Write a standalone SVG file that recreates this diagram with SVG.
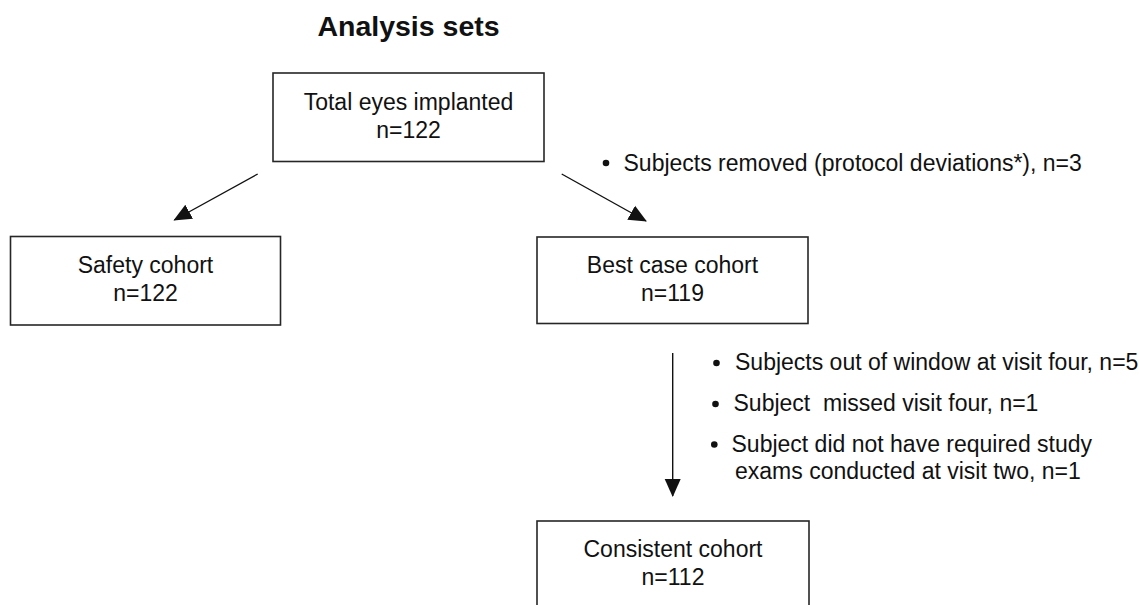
<svg xmlns="http://www.w3.org/2000/svg" width="1139" height="605" viewBox="0 0 1139 605">
<defs>
<style>
.box{fill:#fff;stroke:#262626;stroke-width:1.6}
.t{font-family:"Liberation Sans",Arial,sans-serif;font-size:23px;fill:#111}
.c{text-anchor:middle}
.title{font-family:"Liberation Sans",Arial,sans-serif;font-size:28.5px;font-weight:bold;fill:#111;text-anchor:middle}
.edge{stroke:#111;stroke-width:1.4;fill:none;marker-end:url(#ah)}
.dot{fill:#111}
</style>
<marker id="ah" markerUnits="userSpaceOnUse" markerWidth="18" markerHeight="18" viewBox="0 0 18 16" refX="17" refY="8" orient="auto">
<path d="M0,0 L18,8 L0,16 Z" fill="#111"/>
</marker>
</defs>
<rect width="1139" height="605" fill="#fff"/>
<text class="title" x="408.5" y="36">Analysis sets</text>
<g id="connectors">
<line class="edge" x1="257.7" y1="174" x2="174.3" y2="220"/>
<line class="edge" x1="561.7" y1="174" x2="646" y2="221"/>
<line class="edge" x1="672.7" y1="353" x2="672.7" y2="496"/>
</g>
<g id="total">
<rect class="box" x="273" y="73" width="271" height="88.5"/>
<text class="t c" x="408.5" y="110">Total eyes implanted</text>
<text class="t c" x="408.5" y="137.5">n=122</text>
</g>
<g id="safety">
<rect class="box" x="10.5" y="236.5" width="270" height="88.5"/>
<text class="t c" x="145.5" y="273">Safety cohort</text>
<text class="t c" x="145.5" y="301">n=122</text>
</g>
<g id="bestcase">
<rect class="box" x="537" y="237" width="271" height="86.5"/>
<text class="t c" x="672.5" y="273">Best case cohort</text>
<text class="t c" x="672.5" y="300.5">n=119</text>
</g>
<g id="consistent">
<rect class="box" x="537" y="521" width="272" height="120"/>
<text class="t c" x="673" y="557">Consistent cohort</text>
<text class="t c" x="673" y="585">n=112</text>
</g>
<g id="note-removed">
<circle class="dot" cx="606" cy="163" r="3.3"/>
<text class="t" x="623.5" y="170.5">Subjects removed (protocol deviations*), n=3</text>
</g>
<g id="note-consistent">
<circle class="dot" cx="716.5" cy="363" r="3.3"/>
<text class="t" x="735" y="370">Subjects out of window at visit four, n=5</text>
<circle class="dot" cx="715.5" cy="404" r="3.3"/>
<text class="t" x="733.5" y="411" style="white-space:pre" xml:space="preserve">Subject  missed visit four, n=1</text>
<circle class="dot" cx="714.3" cy="444.5" r="3.3"/>
<text class="t" x="731.5" y="451.5">Subject did not have required study</text>
<text class="t" x="735" y="479.3">exams conducted at visit two, n=1</text>
</g>
</svg>
